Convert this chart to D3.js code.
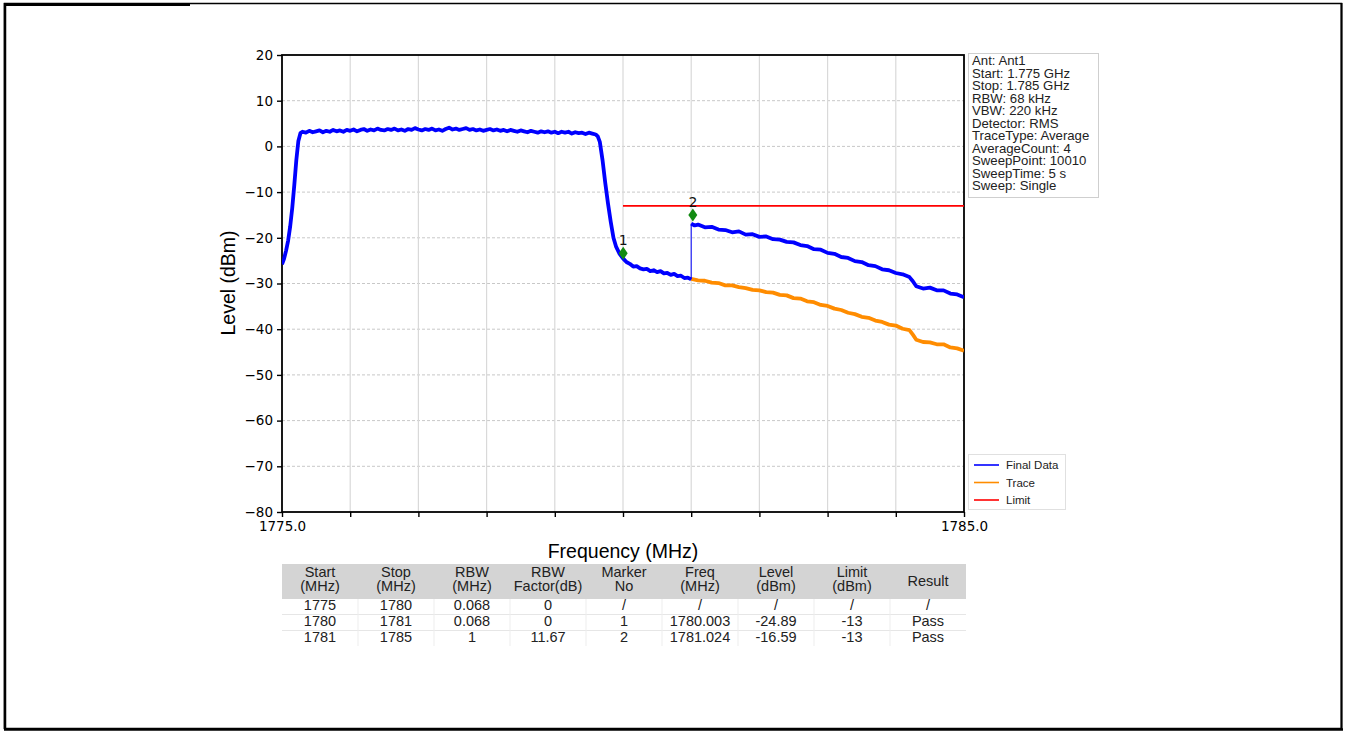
<!DOCTYPE html>
<html><head><meta charset="utf-8">
<script src="https://cdn.jsdelivr.net/npm/d3@7"></script>
<style>
body{margin:0;background:#fff;}
svg{display:block;font-family:"Liberation Sans",Arial,sans-serif;}
</style></head>
<body><svg id="c" width="1345" height="731"></svg>
<script>
// ---------------- data ----------------
const finalLowFreq = [1775.00,1775.03,1775.06,1775.09,1775.12,1775.15,1775.18,1775.21,1775.24,1775.27,
1775.30,1775.35,1775.40,1775.45,1775.50,1775.55,1775.60,1775.65,1775.70,1775.75,1775.80,1775.85,1775.90,1775.95,
1776.00,1776.05,1776.10,1776.15,1776.20,1776.25,1776.30,1776.35,1776.40,1776.45,1776.50,1776.55,1776.60,1776.65,1776.70,1776.75,1776.80,1776.85,1776.90,1776.95,
1777.00,1777.05,1777.10,1777.15,1777.20,1777.25,1777.30,1777.35,1777.40,1777.45,1777.50,1777.55,1777.60,1777.65,1777.70,1777.75,1777.80,1777.85,1777.90,1777.95,
1778.00,1778.05,1778.10,1778.15,1778.20,1778.25,1778.30,1778.35,1778.40,1778.45,1778.50,1778.55,1778.60,1778.65,1778.70,1778.75,1778.80,1778.85,1778.90,1778.95,
1779.00,1779.05,1779.10,1779.15,1779.20,1779.25,1779.30,1779.35,1779.40,1779.45,1779.50,1779.55,1779.60,
1779.63,1779.66,1779.70,1779.74,1779.78,1779.82,1779.86,1779.90,1779.95,1780.00,1780.05,1780.10,1780.15,1780.20,1780.25,1780.30,1780.35,1780.40,1780.45,1780.50,1780.55,1780.60,1780.65,1780.70,1780.75,1780.80,1780.85,1780.90,1780.95,1781.00];
const finalLowLevel = [-25.8,-24.6,-22.8,-20.6,-17.5,-13.5,-8.5,-3.0,1.2,2.9,
3.2,3.0,3.4,3.1,3.3,3.5,3.1,3.4,3.2,3.6,3.3,3.5,3.2,3.6,
3.4,3.7,3.3,3.6,3.8,3.4,3.7,3.5,3.9,3.6,3.5,3.8,3.6,3.9,3.5,3.7,3.4,3.8,3.6,4.0,
3.7,3.5,3.8,3.6,3.9,3.5,3.7,3.4,3.8,4.1,3.7,3.9,3.6,3.8,4.0,3.6,3.8,3.5,3.7,3.4,
3.6,3.8,3.5,3.7,3.4,3.6,3.3,3.6,3.4,3.2,3.5,3.3,3.1,3.4,3.2,3.0,3.3,3.1,3.3,3.0,
3.2,2.9,3.2,3.0,3.2,2.8,3.1,2.9,3.0,2.7,3.0,2.8,2.6,
2.2,1.0,-3.0,-8.0,-12.5,-16.5,-20.0,-22.0,-23.5,-24.5,-25.3,-25.7,-26.3,-26.2,-26.7,-26.9,-26.8,-27.3,-27.1,-27.5,-27.3,-27.8,-27.7,-28.1,-27.9,-28.4,-28.3,-28.8,-28.7,-29.1];

const finalHighFreq = [1781.00,1781.05,1781.10,1781.20,1781.30,1781.40,1781.50,1781.60,1781.70,1781.80,1781.90,1782.00,1782.10,1782.20,1782.30,1782.40,1782.50,1782.60,1782.70,1782.80,1782.90,1783.00,1783.10,1783.20,1783.30,1783.40,1783.50,1783.60,1783.70,1783.80,1783.90,1784.00,1784.10,1784.20,1784.25,1784.30,1784.40,1784.50,1784.60,1784.70,1784.80,1784.90,1785.00];
const finalHighLevel = [-16.9,-17.3,-17.1,-17.7,-17.6,-18.2,-18.3,-18.8,-18.6,-19.3,-19.2,-19.8,-19.7,-20.3,-20.4,-20.9,-21.0,-21.6,-21.8,-22.5,-22.6,-23.3,-23.5,-24.2,-24.4,-25.1,-25.3,-26.0,-26.2,-26.9,-27.1,-27.7,-28.0,-28.6,-29.5,-30.6,-31.1,-30.9,-31.5,-31.5,-32.2,-32.4,-33.0];

const traceFreq = [1781.00,1781.10,1781.20,1781.30,1781.40,1781.50,1781.60,1781.70,1781.80,1781.90,1782.00,1782.10,1782.20,1782.30,1782.40,1782.50,1782.60,1782.70,1782.80,1782.90,1783.00,1783.10,1783.20,1783.30,1783.40,1783.50,1783.60,1783.70,1783.80,1783.90,1784.00,1784.10,1784.20,1784.25,1784.30,1784.40,1784.50,1784.60,1784.70,1784.80,1784.90,1785.00];
const traceLevel = [-29.0,-29.3,-29.4,-29.8,-29.9,-30.4,-30.4,-30.8,-31.0,-31.4,-31.5,-31.9,-32.0,-32.5,-32.6,-33.2,-33.3,-33.9,-34.1,-34.7,-34.9,-35.5,-35.8,-36.4,-36.7,-37.3,-37.5,-38.1,-38.4,-39.0,-39.2,-39.9,-40.2,-41.2,-42.3,-42.8,-42.9,-43.3,-43.3,-44.0,-44.2,-44.7];

const limitFreq = [1780, 1785];
const limitLevel = [-13, -13];

const markerNo = ["1", "2"];
const markerFreq = [1780.003, 1781.024];
const markerLevel = [-23.4, -15.0];

const yTicks = [20,10,0,-10,-20,-30,-40,-50,-60,-70,-80];
const xTicks = [1775,1776,1777,1778,1779,1780,1781,1782,1783,1784,1785];
const xTickLabels = ["1775.0","","","","","","","","","","1785.0"];

const infoLines = ["Ant: Ant1","Start: 1.775 GHz","Stop: 1.785 GHz","RBW: 68 kHz","VBW: 220 kHz","Detector: RMS","TraceType: Average","AverageCount: 4","SweepPoint: 10010","SweepTime: 5 s","Sweep: Single"];
const legendNames = ["Final Data","Trace","Limit"];
const legendColors = ["#0000ff","#ff8c00","#ff0000"];

const tableHeader = [["Start","(MHz)"],["Stop","(MHz)"],["RBW","(MHz)"],["RBW","Factor(dB)"],["Marker","No"],["Freq","(MHz)"],["Level","(dBm)"],["Limit","(dBm)"],["Result"]];
const tableRows = [
  ["1775","1780","0.068","0","/","/","/","/","/"],
  ["1780","1781","0.068","0","1","1780.003","-24.89","-13","Pass"],
  ["1781","1785","1","11.67","2","1781.024","-16.59","-13","Pass"]
];

// ---------------- layout ----------------
const svg = d3.select("#c");
const L = 282, R = 964, T = 55, B = 512;
const x = d3.scaleLinear().domain([1775,1785]).range([L,R]);
const y = d3.scaleLinear().domain([-80,20]).range([B,T]);
const tickFont = "DejaVu Sans, sans-serif";

// outer frame
svg.append("rect").attr("x",4.5).attr("y",3.5).attr("width",1337).attr("height",725)
  .attr("fill","none").attr("stroke","#000").attr("stroke-width",1.5);
svg.append("line").attr("x1",4).attr("x2",190).attr("y1",4.5).attr("y2",4.5).attr("stroke","#000").attr("stroke-width",3);
svg.append("line").attr("x1",5).attr("x2",5).attr("y1",3).attr("y2",729).attr("stroke","#000").attr("stroke-width",2.5);
svg.append("line").attr("x1",1341.5).attr("x2",1341.5).attr("y1",3).attr("y2",730).attr("stroke","#000").attr("stroke-width",2);
svg.append("line").attr("x1",4).attr("x2",1343).attr("y1",729.5).attr("y2",729.5).attr("stroke","#000").attr("stroke-width",2.5);

// grid
const g = svg.append("g");
g.selectAll(".hg").data(yTicks.filter(d=>d>-80 && d<20)).join("line")
  .attr("x1",L).attr("x2",R).attr("y1",d=>y(d)).attr("y2",d=>y(d))
  .attr("stroke","#c8c8c8").attr("stroke-width",1).attr("stroke-dasharray","3,2");
g.selectAll(".vg").data(xTicks.filter(d=>d>1775 && d<1785)).join("line")
  .attr("x1",d=>x(d)).attr("x2",d=>x(d)).attr("y1",T).attr("y2",B)
  .attr("stroke","#d9d9d9").attr("stroke-width",1.2);

// axes
const yAxis = d3.axisLeft(y).tickValues(yTicks).tickSize(5).tickPadding(4)
  .tickFormat(d=> d<0 ? "\u2212"+Math.abs(d) : String(d));
const ya = svg.append("g").attr("transform",`translate(${L},0)`).call(yAxis);
ya.select(".domain").remove();
ya.selectAll("text").attr("font-size",13.5).attr("fill","#000").attr("font-family",tickFont);
ya.selectAll("line").attr("stroke","#000").attr("stroke-width",1.4);

const xAxis = d3.axisBottom(x).tickValues(xTicks).tickSize(5).tickPadding(4)
  .tickFormat((d,i)=>xTickLabels[i]);
const xa = svg.append("g").attr("transform",`translate(0,${B})`).call(xAxis);
xa.select(".domain").remove();
xa.selectAll("text").attr("font-size",13.5).attr("fill","#000").attr("font-family",tickFont);
xa.selectAll("line").attr("stroke","#000").attr("stroke-width",1.4);

// plot frame
svg.append("rect").attr("x",L).attr("y",T).attr("width",R-L).attr("height",B-T)
  .attr("fill","none").attr("stroke","#000").attr("stroke-width",1.8);

// axis titles
svg.append("text").attr("x",623).attr("y",558).attr("text-anchor","middle")
  .attr("font-size",19.5).text("Frequency (MHz)");
svg.append("text").attr("transform","translate(235,283) rotate(-90)").attr("text-anchor","middle")
  .attr("font-size",19.5).text("Level (dBm)");

// lines
const line = d3.line().x(d=>x(d[0])).y(d=>y(d[1]));
svg.append("defs").append("clipPath").attr("id","pc").append("rect")
  .attr("x",L).attr("y",T).attr("width",R-L).attr("height",B-T);
const pg = svg.append("g").attr("clip-path","url(#pc)");

const traceData = d3.zip(traceFreq, traceLevel);
pg.append("path").datum(traceData).attr("d",line).attr("fill","none")
  .attr("stroke","#ff8c00").attr("stroke-width",3.8).attr("stroke-linejoin","round");

const lowData = d3.zip(finalLowFreq, finalLowLevel);
const highData = d3.zip(finalHighFreq, finalHighLevel);
pg.append("path").datum(lowData).attr("d",line).attr("fill","none")
  .attr("stroke","#0000ff").attr("stroke-width",3.8).attr("stroke-linejoin","round");
pg.append("path").datum([lowData[lowData.length-1], highData[0]]).attr("d",line).attr("fill","none")
  .attr("stroke","#0000ff").attr("stroke-width",1);
pg.append("path").datum(highData).attr("d",line).attr("fill","none")
  .attr("stroke","#0000ff").attr("stroke-width",3.8).attr("stroke-linejoin","round");

pg.append("path").datum(d3.zip(limitFreq, limitLevel)).attr("d",line).attr("fill","none")
  .attr("stroke","#ff0000").attr("stroke-width",1.8);

// markers
const mk = svg.append("g");
markerNo.forEach((n,i)=>{
  const cx = x(markerFreq[i]), cy = y(markerLevel[i]);
  mk.append("path").attr("d",`M${cx},${cy-6.5}L${cx+4.5},${cy}L${cx},${cy+6.5}L${cx-4.5},${cy}Z`)
    .attr("fill","#128a12");
  mk.append("text").attr("x",cx).attr("y",cy-8).attr("text-anchor","middle")
    .attr("font-size",14).attr("font-family",tickFont).attr("fill","#111").text(n);
});

// info box
svg.append("rect").attr("x",968.5).attr("y",53.5).attr("width",130).attr("height",144)
  .attr("fill","#fff").attr("stroke","#cfcfcf").attr("stroke-width",1);
svg.append("g").selectAll("text").data(infoLines).join("text")
  .attr("x",972).attr("y",(d,i)=>65+i*12.5).attr("font-size",13.2).attr("fill","#222").text(d=>d);

// legend
svg.append("rect").attr("x",968.5).attr("y",454.5).attr("width",97).attr("height",55)
  .attr("fill","#fff").attr("stroke","#e0e0e0").attr("stroke-width",1);
const lg = svg.append("g");
legendNames.forEach((n,i)=>{
  const yy = 465 + i*17.5;
  lg.append("line").attr("x1",974).attr("x2",999).attr("y1",yy).attr("y2",yy)
    .attr("stroke",legendColors[i]).attr("stroke-width",1.6);
  lg.append("text").attr("x",1006).attr("y",yy+4).attr("font-size",11.5).attr("fill","#222").text(n);
});

// table
const tL = 282, tR = 966, nC = tableHeader.length, cw = (tR-tL)/nC;
const tb = svg.append("g");
tb.append("rect").attr("x",tL).attr("y",564).attr("width",tR-tL).attr("height",35).attr("fill","#d4d4d4");
[614.5,630.5].forEach(yy=>tb.append("line").attr("x1",tL).attr("x2",tR).attr("y1",yy).attr("y2",yy)
  .attr("stroke","#e6e6e6").attr("stroke-width",1));
d3.range(1,nC).forEach(i=>tb.append("line").attr("x1",tL+i*cw).attr("x2",tL+i*cw).attr("y1",599).attr("y2",646)
  .attr("stroke","#ededed").attr("stroke-width",1));
tableHeader.forEach((h,i)=>{
  const cx = tL + (i+0.5)*cw;
  if(h.length===2){
    tb.append("text").attr("x",cx).attr("y",577).attr("text-anchor","middle").attr("font-size",14.5).attr("fill","#222").text(h[0]);
    tb.append("text").attr("x",cx).attr("y",591).attr("text-anchor","middle").attr("font-size",14.5).attr("fill","#222").text(h[1]);
  } else {
    tb.append("text").attr("x",cx).attr("y",586).attr("text-anchor","middle").attr("font-size",14.5).attr("fill","#222").text(h[0]);
  }
});
tableRows.forEach((r,ri)=>{
  r.forEach((v,ci)=>{
    tb.append("text").attr("x",tL+(ci+0.5)*cw).attr("y",610+ri*15.8).attr("text-anchor","middle")
      .attr("font-size",14.5).attr("fill","#222").text(v);
  });
});
</script></body></html>
